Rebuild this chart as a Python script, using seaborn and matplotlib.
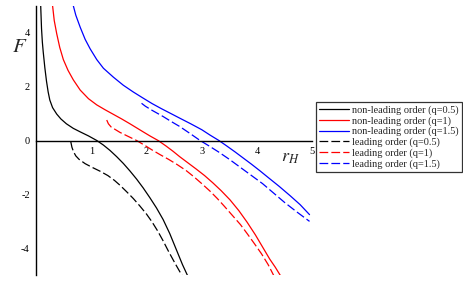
import matplotlib
matplotlib.use("Agg")
import matplotlib.pyplot as plt
import seaborn as sns

# ---- data ----
x_nl_05 = [0.085, 0.10, 0.115, 0.13, 0.16, 0.19, 0.22, 0.25, 0.30, 0.375, 0.45, 0.55, 0.675, 0.80, 0.95,
           1.10, 1.22, 1.34, 1.46, 1.58, 1.70, 1.82, 1.94, 2.06, 2.18, 2.30, 2.42, 2.54, 2.65, 2.74]
y_nl_05 = [5.0, 4.15, 3.65, 3.3, 2.7, 2.2, 1.8, 1.5, 1.22, 0.98, 0.8, 0.62, 0.45, 0.32, 0.17,
           0.0, -0.17, -0.37, -0.6, -0.85, -1.13, -1.43, -1.76, -2.12, -2.5, -2.93, -3.45, -4.05, -4.6, -5.0]

x_nl_1 = [0.30, 0.33, 0.375, 0.43, 0.495, 0.58, 0.675, 0.80, 0.95, 1.10, 1.25, 1.40, 1.55, 1.70, 1.82,
          1.94, 2.07, 2.21, 2.35, 2.48, 2.60, 2.75, 2.90, 3.05, 3.20, 3.35, 3.51, 3.67, 3.82, 3.97,
          4.10, 4.23, 4.33, 4.42]
y_nl_1 = [5.0, 4.45, 3.96, 3.45, 3.0, 2.6, 2.25, 1.87, 1.55, 1.32, 1.14, 0.97, 0.8, 0.62, 0.47,
          0.32, 0.16, 0.0, -0.2, -0.4, -0.6, -0.83, -1.06, -1.3, -1.57, -1.86, -2.2, -2.6, -3.03, -3.5,
          -3.95, -4.4, -4.7, -5.0]

x_nl_15 = [0.675, 0.72, 0.80, 0.89, 0.98, 1.10, 1.22, 1.40, 1.58, 1.76, 1.94, 2.10, 2.27, 2.44, 2.60,
           2.80, 3.00, 3.15, 3.31, 3.45, 3.60, 3.75, 3.90, 4.05, 4.20, 4.40, 4.60, 4.78, 4.95]
y_nl_15 = [5.0, 4.65, 4.2, 3.75, 3.4, 3.0, 2.68, 2.35, 2.05, 1.8, 1.57, 1.37, 1.18, 1.0, 0.83,
           0.62, 0.4, 0.2, 0.0, -0.2, -0.42, -0.65, -0.88, -1.12, -1.37, -1.7, -2.05, -2.38, -2.75]

x_lo_05 = [0.63, 0.65, 0.68, 0.72, 0.78, 0.89, 1.02, 1.16, 1.30, 1.42, 1.52, 1.64, 1.76, 1.88, 2.00,
           2.10, 2.20, 2.30, 2.40, 2.52, 2.64]
y_lo_05 = [-0.05, -0.25, -0.42, -0.57, -0.7, -0.86, -1.0, -1.14, -1.3, -1.48, -1.66, -1.9, -2.15, -2.43, -2.73,
           -3.02, -3.35, -3.72, -4.12, -4.57, -5.0]

x_lo_1 = [1.28, 1.31, 1.36, 1.44, 1.52, 1.67, 1.82, 1.96, 2.10, 2.25, 2.40, 2.56, 2.72, 2.86, 3.0,
          3.15, 3.28, 3.40, 3.55, 3.70, 3.82, 3.95, 4.08, 4.20, 4.30]
y_lo_1 = [0.76, 0.62, 0.5, 0.4, 0.3, 0.15, 0.0, -0.17, -0.35, -0.53, -0.7, -0.9, -1.12, -1.35, -1.6,
          -1.88, -2.15, -2.42, -2.77, -3.12, -3.45, -3.82, -4.2, -4.6, -5.0]

x_lo_15 = [1.91, 1.98, 2.10, 2.30, 2.45, 2.60, 2.78, 2.97, 3.13, 3.30, 3.50, 3.70, 3.90, 4.10, 4.30,
           4.50, 4.72, 4.95]
y_lo_15 = [1.38, 1.27, 1.12, 0.89, 0.7, 0.52, 0.27, 0.0, -0.2, -0.42, -0.7, -1.0, -1.3, -1.6, -1.95,
           -2.3, -2.65, -3.0]

labels = ["non-leading order (q=0.5)", "non-leading order (q=1)", "non-leading order (q=1.5)",
          "leading order (q=0.5)", "leading order (q=1)", "leading order (q=1.5)"]
x_ticks = [1, 2, 3, 4, 5]
y_ticks = [-4, -2, 0, 2, 4]

# ---- style ----
sns.set_style("white")
plt.rcParams["font.family"] = ["Liberation Serif", "DejaVu Serif"]
plt.rcParams["mathtext.fontset"] = "stix"
plt.rcParams["axes.unicode_minus"] = False

fig = plt.figure(figsize=(4.63, 2.81), dpi=100)
W, H = 463, 281
x0px, x5px = 36, 312.3
ytop, ybot = 5.7, 275.3
ax = fig.add_axes([x0px / W, (H - ybot) / H, (x5px - x0px) / W, (ybot - ytop) / H])
ax.set_facecolor("none")

series = [
    (x_nl_05, y_nl_05, "#000000", "-"),
    (x_nl_1, y_nl_1, "#ff0000", "-"),
    (x_nl_15, y_nl_15, "#0000ff", "-"),
    (x_lo_05, y_lo_05, "#000000", "--"),
    (x_lo_1, y_lo_1, "#ff0000", "--"),
    (x_lo_15, y_lo_15, "#0000ff", "--"),
]
for (xs, ys, c, ls), lab in zip(series, labels):
    sns.lineplot(x=xs, y=ys, ax=ax, color=c, linewidth=0.9, estimator=None, sort=False,
                 label=lab)
    line = ax.get_lines()[-1]
    line.set_solid_joinstyle("round")
    if ls == "--":
        line.set_dashes((7, 2.5))

ax.set_xlim(0, 5)
ax.set_ylim(-5, 5)

for s in ["top", "right"]:
    ax.spines[s].set_visible(False)
ax.spines["left"].set_position(("data", 0))
ax.spines["bottom"].set_position(("data", 0))
for s in ["left", "bottom"]:
    ax.spines[s].set_color("black")
    ax.spines[s].set_linewidth(1.0)

ax.set_xticks(x_ticks)
ax.set_xticklabels([str(t) for t in x_ticks])
ax.set_xticks([0.5, 1.5, 2.5, 3.5, 4.5], minor=True)
ax.set_yticks(y_ticks)
ax.set_yticklabels([str(t) for t in y_ticks])
ax.set_yticks([-5, -3, -1, 1, 3, 5], minor=True)
ax.tick_params(axis="both", which="both", direction="out", length=3, width=0.8,
               colors="black", labelsize=7.5, pad=1.5)

ax.set_xlabel("")
ax.set_ylabel("")
fig.text(20 / W, 1 - 47 / H, "$F$", fontsize=15, ha="center", va="center")
fig.text(290 / W, 1 - 158 / H, "$r_H$", fontsize=13, ha="center", va="center")

leg = ax.legend(loc="upper left", bbox_to_anchor=(316 / W, 1 - 102 / H),
                bbox_transform=fig.transFigure, borderaxespad=0, frameon=True,
                fancybox=False, edgecolor="black", fontsize=7.4, handlelength=2.9,
                handletextpad=0.35, labelspacing=0.12, borderpad=0.3)
leg.get_frame().set_linewidth(0.9)

fig.savefig("out.png", dpi=100)
